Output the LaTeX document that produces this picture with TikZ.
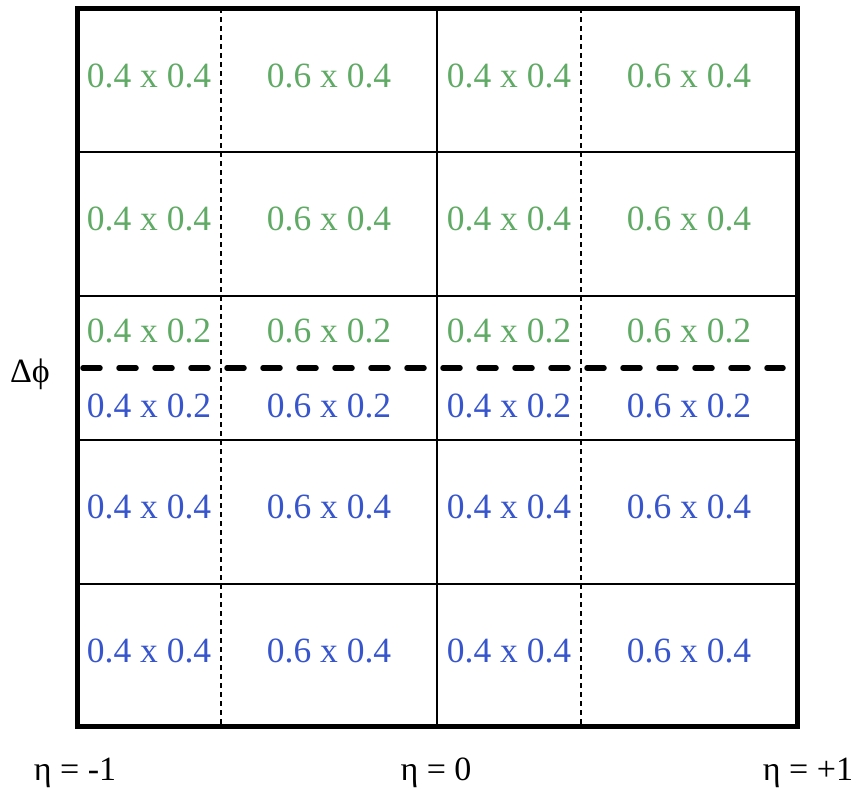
\documentclass[tikz,border=0pt]{standalone}
\usepackage{fontspec}
\setmainfont{Liberation Serif}
\definecolor{cellgreen}{RGB}{95,170,100}
\definecolor{cellblue}{RGB}{55,85,205}
\begin{document}
\begin{tikzpicture}[x=1pt,y=-1pt,
  cellgreen/.style={text=cellgreen,font=\fontsize{35.5}{40}\selectfont,inner sep=0pt},
  cellblue/.style={text=cellblue,font=\fontsize{35.5}{40}\selectfont,inner sep=0pt},
  axislabel/.style={font=\fontsize{34}{38}\selectfont,inner sep=0pt,anchor=base},
  gridline/.style={line width=1.5pt},
  thindash/.style={line width=1.3pt,dash pattern=on 5pt off 4pt},
  thickdash/.style={line width=5.5pt,line cap=round,dash pattern=on 17pt off 19pt},
  frame/.style={line width=5pt,line join=miter}]
\useasboundingbox (0,0) rectangle (856,788);
% grid
\coordinate (tl) at (77,8);
\coordinate (br) at (797,726);
\foreach \y in {152,296,440,584} \draw[gridline] (77,\y) -- (797,\y);
\draw[gridline] (437,8) -- (437,726);
\foreach \x in {221,581} \draw[thindash] (\x,8) -- (\x,726);
\draw[thickdash] (83,368) -- (783,368);
\draw[frame] (tl) rectangle (br);
% cell labels
\foreach \y/\r/\h in {76/a/0.4,219/b/0.4,331/c/0.2} {
  \node[cellgreen] (g\r1) at (149,\y) {0.4 x \h};
  \node[cellgreen] (g\r2) at (329,\y) {0.6 x \h};
  \node[cellgreen] (g\r3) at (509,\y) {0.4 x \h};
  \node[cellgreen] (g\r4) at (689,\y) {0.6 x \h};
}
\foreach \y/\r/\h in {406/d/0.2,507/e/0.4,651/f/0.4} {
  \node[cellblue] (b\r1) at (149,\y) {0.4 x \h};
  \node[cellblue] (b\r2) at (329,\y) {0.6 x \h};
  \node[cellblue] (b\r3) at (509,\y) {0.4 x \h};
  \node[cellblue] (b\r4) at (689,\y) {0.6 x \h};
}
% axis labels
\node[axislabel] (etaL) at (75,780) {η = -1};
\node[axislabel] (etaM) at (436,780) {η = 0};
\node[axislabel] (etaR) at (808,780) {η = +1};
\node[axislabel,font=\fontsize{34}{38}\selectfont] (dphi) at (30,382) {Δϕ};
\end{tikzpicture}
\end{document}
